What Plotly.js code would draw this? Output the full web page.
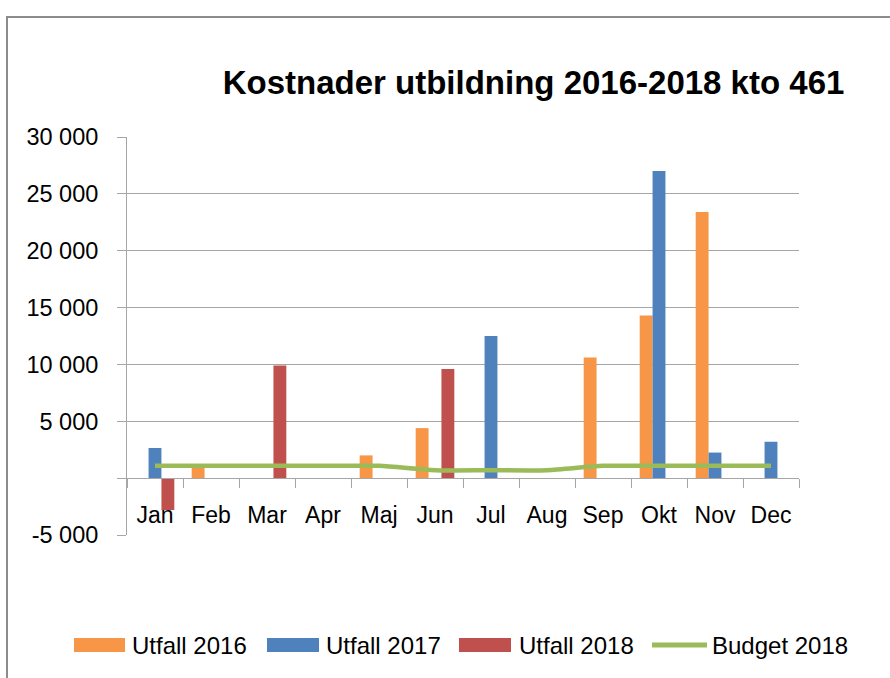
<!DOCTYPE html>
<html>
<head>
<meta charset="utf-8">
<script src="https://cdn.plot.ly/plotly-3.0.1.min.js"></script>
<style>
  html, body { margin: 0; padding: 0; background: #ffffff; }
  #wrap { position: relative; width: 890px; height: 678px; overflow: hidden; }
  #chart { position: absolute; left: 0; top: 0; width: 890px; height: 678px; }
  #frame { position: absolute; left: 6px; top: 16px; width: 960px; height: 760px;
           border: 2px solid #8c8c8c; box-sizing: border-box; pointer-events: none; }
</style>
</head>
<body>
<div id="wrap">
  <div id="chart"></div>
  <div id="frame"></div>
</div>
<script>
const months = ['Jan','Feb','Mar','Apr','Maj','Jun','Jul','Aug','Sep','Okt','Nov','Dec'];
const utfall2016 = [null, 900, null, null, 2000, 4400, null, null, 10600, 14300, 23400, null];
const utfall2017 = [2650, null, null, null, null, null, 12500, null, null, 27000, 2250, 3200];
const utfall2018 = [-2800, null, 9900, null, null, 9600, null, null, null, null, null, null];
const budget2018 = [1080, 1080, 1080, 1080, 1080, 700, 700, 700, 1080, 1080, 1080, 1080];

const yTickVals = [-5000, 0, 5000, 10000, 15000, 20000, 25000, 30000];
const yTickText = ['-5 000', '', '5 000', '10 000', '15 000', '20 000', '25 000', '30 000'];

const seriesNames = ['Utfall 2016', 'Utfall 2017', 'Utfall 2018', 'Budget 2018'];
const seriesColors = ['#F79646', '#4F81BD', '#C0504D', '#9BBB59'];

const FONT = 'Liberation Sans, Arial, sans-serif';

const traces = [
  { type: 'bar', name: seriesNames[0], x: months, y: utfall2016,
    marker: { color: seriesColors[0], line: { width: 0 } } },
  { type: 'bar', name: seriesNames[1], x: months, y: utfall2017,
    marker: { color: seriesColors[1], line: { width: 0 } } },
  { type: 'bar', name: seriesNames[2], x: months, y: utfall2018,
    marker: { color: seriesColors[2], line: { width: 0 } } },
  { type: 'scatter', mode: 'lines', name: seriesNames[3], x: months, y: budget2018,
    line: { color: seriesColors[3], width: 4.5, shape: 'spline', smoothing: 0.7 } }
];

// plot area in pixels (for placing the Excel-style legend)
const M = { l: 127, r: 91, t: 137, b: 143 };
const PW = 890 - M.l - M.r, PH = 678 - M.t - M.b;
const px = v => (v - M.l) / PW;
const py = v => (678 - M.b - v) / PH;

const legendY = 645;
const legendItems = [
  { box: [74, 125], text: 130, kind: 'rect' },
  { box: [267, 319], text: 324, kind: 'rect' },
  { box: [459, 511], text: 517, kind: 'rect' },
  { box: [652, 707], text: 710, kind: 'line' }
];
const shapes = [];
const annotations = [];
legendItems.forEach((it, i) => {
  if (it.kind === 'rect') {
    shapes.push({ type: 'rect', xref: 'paper', yref: 'paper',
      x0: px(it.box[0]), x1: px(it.box[1]), y0: py(legendY + 7), y1: py(legendY - 7),
      fillcolor: seriesColors[i], line: { width: 0 } });
  } else {
    shapes.push({ type: 'line', xref: 'paper', yref: 'paper',
      x0: px(it.box[0]), x1: px(it.box[1]), y0: py(legendY), y1: py(legendY),
      line: { color: seriesColors[i], width: 5 } });
  }
  annotations.push({ xref: 'paper', yref: 'paper', x: px(it.text), y: py(legendY),
    xanchor: 'left', yanchor: 'middle', showarrow: false, text: seriesNames[i],
    font: { family: FONT, size: 24, color: '#000000' } });
});

const layout = {
  width: 890, height: 678,
  margin: { l: M.l, r: M.r, t: M.t, b: M.b, autoexpand: false },
  paper_bgcolor: 'rgba(0,0,0,0)',
  plot_bgcolor: 'rgba(0,0,0,0)',
  font: { family: FONT, size: 23, color: '#000000' },
  barmode: 'group',
  bargap: 0.31,
  bargroupgap: 0,
  showlegend: false,
  title: {
    text: 'Kostnader utbildning 2016-2018 kto 461',
    font: { family: FONT, size: 33, weight: 'bold', color: '#000000' },
    xref: 'container', yref: 'container',
    x: 533.5 / 890, xanchor: 'center',
    y: 1 - 82 / 678, yanchor: 'middle'
  },
  xaxis: {
    type: 'category',
    anchor: 'free',
    position: 5000 / 35000,
    showline: true, linecolor: '#a6a6a6', linewidth: 1,
    ticks: 'outside', ticklen: 9, tickcolor: '#a6a6a6', tickwidth: 1,
    tickson: 'boundaries',
    ticklabelstandoff: 16,
    showgrid: false, zeroline: false,
    tickfont: { family: FONT, size: 23, color: '#000000' }
  },
  yaxis: {
    range: [-5000, 30000],
    tickvals: yTickVals, ticktext: yTickText,
    showline: true, linecolor: '#a6a6a6', linewidth: 1,
    ticks: 'outside', ticklen: 9, tickcolor: '#a6a6a6', tickwidth: 1,
    ticklabelstandoff: 14,
    showgrid: true, gridcolor: '#a6a6a6', gridwidth: 1,
    zeroline: false,
    tickfont: { family: FONT, size: 23.5, color: '#000000' }
  },
  shapes: shapes,
  annotations: annotations
};

Plotly.newPlot('chart', traces, layout, { displayModeBar: false, staticPlot: true });
</script>
</body>
</html>
